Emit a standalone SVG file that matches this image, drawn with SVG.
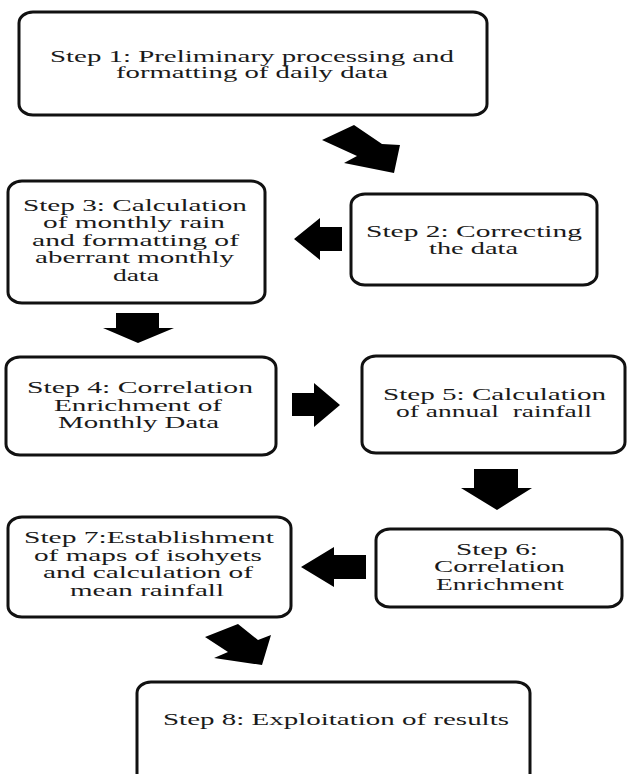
<svg xmlns="http://www.w3.org/2000/svg" width="628" height="774" viewBox="0 0 628 774">
<style>
.box{fill:#fff;stroke:#111;stroke-width:3}
.t{font-family:"Liberation Serif","Times New Roman",serif;font-size:17px;fill:#1a1a1a;white-space:pre}
.arr{fill:#000}
</style>
<rect width="628" height="774" fill="#fff"/>
<g id="connectors">
<polygon class="arr" points="322,140 354,125 382,144 400,145 394,173 344,163 357,156"/>
<polygon class="arr" points="342,227 320,227 320,218 294,239 320,260 320,251 342,251"/>
<polygon class="arr" points="116,313 159,313 159,328 174,328 138,343 103,328 116,328"/>
<polygon class="arr" points="292,393 314,393 314,383 340,405 314,427 314,416 292,416"/>
<polygon class="arr" points="474,469 518,469 518,488 532,488 497,510 461,488 474,488"/>
<polygon class="arr" points="366,555 334,555 334,547 301,567 334,587 334,579 366,579"/>
<polygon class="arr" points="205,637 238,624 258,640 271,635 262,665 214,658 228,652"/>
</g>
<g id="step1">
<rect class="box" x="19" y="12" width="468" height="103" rx="14" ry="11"/>
<text class="t" x="50" y="62" textLength="404" lengthAdjust="spacingAndGlyphs">Step 1: Preliminary processing and</text>
<text class="t" x="116" y="78" textLength="272" lengthAdjust="spacingAndGlyphs">formatting of daily data</text>
</g>
<g id="step2">
<rect class="box" x="351" y="194" width="246" height="91" rx="14" ry="11"/>
<text class="t" x="366" y="237" textLength="216" lengthAdjust="spacingAndGlyphs">Step 2: Correcting</text>
<text class="t" x="429" y="254" textLength="89" lengthAdjust="spacingAndGlyphs">the data</text>
</g>
<g id="step3">
<rect class="box" x="8" y="181" width="257" height="122" rx="14" ry="11"/>
<text class="t" x="23" y="211" textLength="224" lengthAdjust="spacingAndGlyphs">Step 3: Calculation</text>
<text class="t" x="43" y="228" textLength="182" lengthAdjust="spacingAndGlyphs">of monthly rain</text>
<text class="t" x="32" y="246" textLength="207" lengthAdjust="spacingAndGlyphs">and formatting of</text>
<text class="t" x="35" y="263" textLength="199" lengthAdjust="spacingAndGlyphs">aberrant monthly</text>
<text class="t" x="113" y="281" textLength="46" lengthAdjust="spacingAndGlyphs">data</text>
</g>
<g id="step4">
<rect class="box" x="6" y="357" width="270" height="98" rx="14" ry="11"/>
<text class="t" x="27" y="393" textLength="226" lengthAdjust="spacingAndGlyphs">Step 4: Correlation</text>
<text class="t" x="54" y="411" textLength="168" lengthAdjust="spacingAndGlyphs">Enrichment of</text>
<text class="t" x="58" y="428" textLength="161" lengthAdjust="spacingAndGlyphs">Monthly Data</text>
</g>
<g id="step5">
<rect class="box" x="362" y="356" width="263" height="97" rx="14" ry="11"/>
<text class="t" x="383" y="400" textLength="223" lengthAdjust="spacingAndGlyphs">Step 5: Calculation</text>
<text class="t" x="396" y="417" textLength="196" lengthAdjust="spacingAndGlyphs">of annual  rainfall</text>
</g>
<g id="step6">
<rect class="box" x="376" y="529" width="246" height="78" rx="14" ry="11"/>
<text class="t" x="456" y="555" textLength="82" lengthAdjust="spacingAndGlyphs">Step 6:</text>
<text class="t" x="434" y="572" textLength="131" lengthAdjust="spacingAndGlyphs">Correlation</text>
<text class="t" x="436" y="590" textLength="128" lengthAdjust="spacingAndGlyphs">Enrichment</text>
</g>
<g id="step7">
<rect class="box" x="8" y="517" width="283" height="100" rx="14" ry="11"/>
<text class="t" x="24" y="543" textLength="250" lengthAdjust="spacingAndGlyphs">Step 7:Establishment</text>
<text class="t" x="34" y="561" textLength="228" lengthAdjust="spacingAndGlyphs">of maps of isohyets</text>
<text class="t" x="43" y="578" textLength="210" lengthAdjust="spacingAndGlyphs">and calculation of</text>
<text class="t" x="70" y="596" textLength="154" lengthAdjust="spacingAndGlyphs">mean rainfall</text>
</g>
<g id="step8">
<rect class="box" x="137" y="682" width="393" height="120" rx="14" ry="11"/>
<text class="t" x="163" y="725" textLength="346" lengthAdjust="spacingAndGlyphs">Step 8: Exploitation of results</text>
</g>
</svg>
